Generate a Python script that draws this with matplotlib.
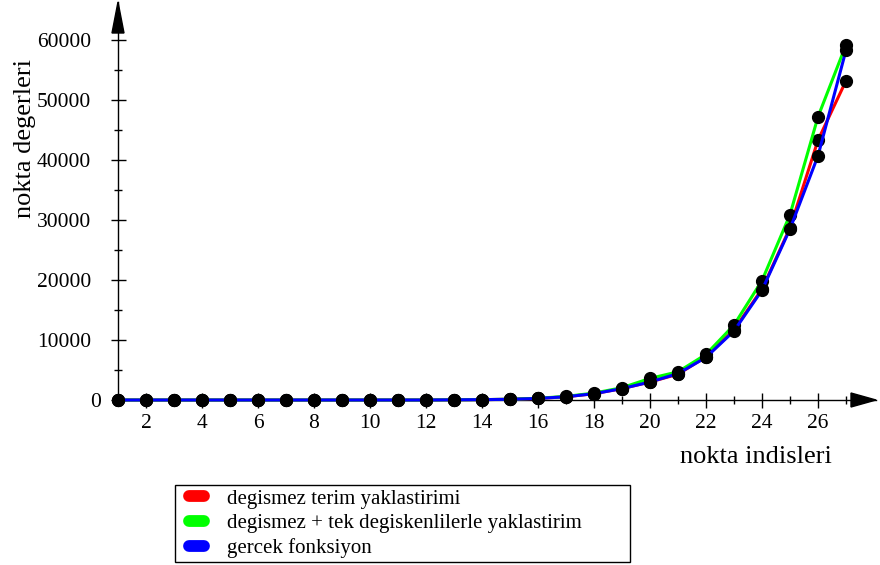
import matplotlib
matplotlib.use("Agg")
import matplotlib.pyplot as plt
from matplotlib.lines import Line2D
from matplotlib.legend_handler import HandlerLine2D
from matplotlib.ticker import FixedLocator
from matplotlib.transforms import ScaledTranslation

plt.rcParams["font.family"] = ["Liberation Serif", "DejaVu Serif"]

# ── data ─────────────────────────────────────────────────────────────────────
indices = list(range(1, 28))
sabit_terim = [0, 0, 0, 0, 0, 0, 0, 0, 0, 0, 0, 0, 30, 60, 120, 260, 540,
               1050, 1900, 3000, 4300, 7200, 11700, 18500, 28700, 43300, 53200]
sabit_tek = [0, 0, 0, 0, 0, 0, 0, 0, 0, 0, 0, 0, 30, 60, 130, 290, 600,
             1150, 2050, 3600, 4700, 7600, 12500, 19900, 30900, 47200, 59200]
gercek = [0, 0, 0, 0, 0, 0, 0, 0, 0, 0, 0, 0, 30, 60, 120, 260, 540,
          1050, 1900, 3000, 4400, 7100, 11500, 18300, 28500, 40700, 58300]
labels = ["degismez terim yaklastirimi",
          "degismez + tek degiskenlilerle yaklastirim",
          "gercek fonksiyon"]
colors = ["#ff0000", "#00ff00", "#0000ff"]

W, H, DPI = 880, 565, 100
# axes box in pixels (origin of the arrows at x=1, y=0)
AX_L, AX_R, AX_B, AX_T = 118, 876, 400, 2
PX_PER_X = 28.0          # pixels per index unit
PX_PER_Y = 60.0 / 10000  # pixels per value unit

fig = plt.figure(figsize=(W / DPI, H / DPI), dpi=DPI)
ax = fig.add_axes([AX_L / W, (H - AX_B) / H, (AX_R - AX_L) / W, (AX_B - AX_T) / H])
ax.patch.set_visible(False)

for ys, c in zip([sabit_terim, sabit_tek, gercek], colors):
    ax.plot(indices, ys, color=c, linewidth=2.2, marker="o", markersize=8.5,
            markerfacecolor="black", markeredgecolor="black", clip_on=False, zorder=3)

ax.set_xlim(1, 1 + (AX_R - AX_L) / PX_PER_X)
ax.set_ylim(0, (AX_B - AX_T) / PX_PER_Y)

# ── arrow axes ──────────────────────────────────────────────────────────────
for s in ["top", "right"]:
    ax.spines[s].set_visible(False)
for s in ["left", "bottom"]:
    ax.spines[s].set_linewidth(1.0)
    ax.spines[s].set_zorder(2)

aw, ah = AX_R - AX_L, AX_B - AX_T
# x arrow: 25 px long, 14 px tall ; y arrow: 31 px long, 12 px wide
ax.fill([1 - 25 / aw, 1, 1 - 25 / aw], [-7 / ah, 0, 7 / ah], color="black",
        transform=ax.transAxes, clip_on=False, zorder=4)
ax.fill([-6 / aw, 0, 6 / aw], [1 - 31 / ah, 1, 1 - 31 / ah], color="black",
        transform=ax.transAxes, clip_on=False, zorder=4)

ax.yaxis.set_major_locator(FixedLocator(range(0, 60001, 10000)))
ax.yaxis.set_minor_locator(FixedLocator(range(5000, 60000, 10000)))
ax.xaxis.set_major_locator(FixedLocator(range(2, 27, 2)))
ax.xaxis.set_minor_locator(FixedLocator(range(3, 28, 2)))
ax.tick_params(which="major", direction="inout", length=10.8, width=1.0,
               labelsize=15.5, color="black")
ax.tick_params(which="minor", direction="inout", length=5.8, width=1.0)
ax.tick_params(axis="y", pad=14)
ax.tick_params(axis="x", pad=5)

# the "0" label sits a bit closer to the axis in the original
zero_lbl = ax.yaxis.get_major_ticks()[0].label1
zero_lbl.set_transform(zero_lbl.get_transform()
                       + ScaledTranslation(7 / 72, 0, fig.dpi_scale_trans))

fig.text(756 / W, 1 - 457 / H, "nokta indisleri", fontsize=19, ha="center", va="center")
fig.text(25 / W, 1 - 139 / H, "nokta degerleri", fontsize=19, ha="center", va="center",
         rotation=90)

handles = [Line2D([], [], color=c, linewidth=8.5, solid_capstyle="round") for c in colors]
leg = fig.legend(handles, labels, loc="upper left",
                 bbox_to_anchor=(175 / W, 1 - 485 / H, 455 / W, 0), mode="expand",
                 handler_map={Line2D: HandlerLine2D(xpad=0.45)},
                 fontsize=15, frameon=True, fancybox=False, edgecolor="black",
                 framealpha=1, handlelength=1.2, handletextpad=1.1,
                 labelspacing=0.24, borderpad=0.2, borderaxespad=0)
leg.get_frame().set_linewidth(1.0)

fig.savefig("out.png", dpi=DPI)
